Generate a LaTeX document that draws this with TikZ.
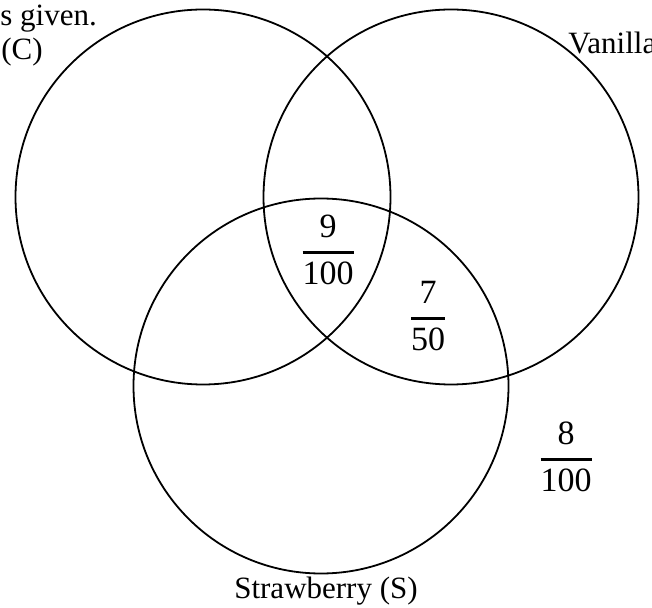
\documentclass[tikz,border=0pt]{standalone}
\usepackage{fontspec}
\setmainfont{Liberation Serif}
\usepackage{amsmath}
\newcommand{\probfrac}[2]{$\genfrac{}{}{1.35pt}{0}{\text{#1}}{\text{#2}}$}

\begin{document}
\begin{tikzpicture}[x=0.5pt,y=-0.5pt, setcircle/.style={draw=black, line width=0.9pt}, setname/.style={font=\fontsize{15.5}{18}\selectfont, inner sep=0pt}, prob/.style={font=\fontsize{17}{20}\selectfont, inner sep=0pt}]
        \useasboundingbox (0,0) rectangle (652,608);
        \coordinate (choc) at (203,197);
        \coordinate (van) at (451,197);
        \coordinate (straw) at (321,386);
        \draw[setcircle] (choc) circle[radius=93.75pt];
        \draw[setcircle] (van) circle[radius=93.75pt];
        \draw[setcircle] (straw) circle[radius=93.75pt];
        \node[setname, anchor=base west] (given) at (0,26) {s given.};
        \node[setname, anchor=base west] (chocname) at (1,60) {(C)};
        \node[setname, anchor=base west] (vanname) at (568,54) {Vanilla};
        \node[setname, anchor=base] (strawname) at (326,598) {Strawberry (S)};
        \node[prob] (cvs) at (328,250) {\probfrac{9}{100}};
        \node[prob] (vs) at (428,316) {\probfrac{7}{50}};
        \node[prob] (none) at (566,457) {\probfrac{8}{100}};
    \end{tikzpicture}
\end{document}
